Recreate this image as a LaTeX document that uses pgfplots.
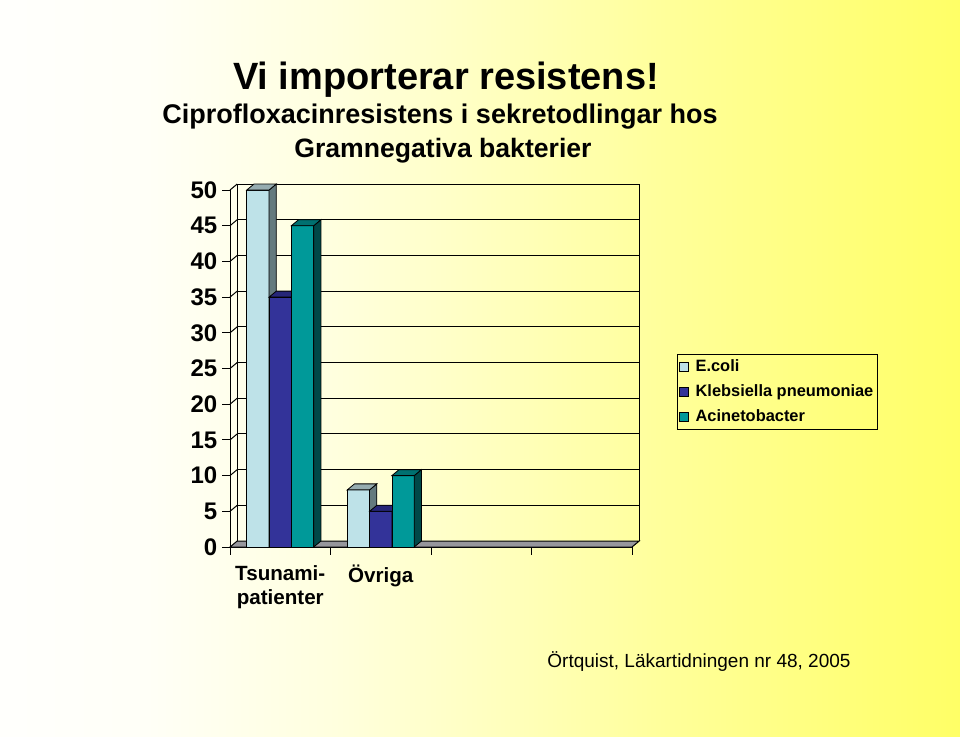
\documentclass[border=0pt]{standalone}
\usepackage{pgfplots}
\pgfplotsset{compat=1.18}
\usepackage{pgfplotstable}
\usepackage{fontspec}
\setmainfont{Liberation Sans}

\definecolor{ecoliF}{RGB}{190,226,232}
\definecolor{ecoliS}{RGB}{100,122,126}
\definecolor{ecoliT}{RGB}{150,172,176}
\definecolor{klebF}{RGB}{51,51,153}
\definecolor{klebS}{RGB}{25,25,82}
\definecolor{klebT}{RGB}{38,38,120}
\definecolor{acinF}{RGB}{0,153,153}
\definecolor{acinS}{RGB}{0,72,72}
\definecolor{acinT}{RGB}{0,112,112}
\definecolor{floorgray}{RGB}{150,150,156}

\pgfdeclarehorizontalshading{bgshade}{100bp}{%
  rgb(0bp)=(1,1,0.99); rgb(25bp)=(1,1,0.99); rgb(32.5bp)=(1,1,0.97);
  rgb(42.5bp)=(1,1,0.87); rgb(50bp)=(1,1,0.76); rgb(60bp)=(1,1,0.6);
  rgb(75bp)=(1,1,0.4); rgb(100bp)=(1,1,0.4)}

\pgfplotstableread{
pos ecoli kleb acin
0.5 50 35 45
1.5 8 5 10
}\resdata

\def\bw{5.575pt}
\def\dxb{3.6pt}
\def\dyb{3pt}
\def\yunit{3.57}

\newcommand\declarebarmark[4]{%
  \pgfdeclareplotmark{#1}{%
    \pgfkeys{/pgf/fpu=true,/pgf/fpu/output format=fixed}%
    \pgfmathparse{\barval*\yunit}%
    \pgfkeys{/pgf/fpu=false}%
    \edef\hh{\pgfmathresult pt}%
    \pgfsetlinewidth{0.4pt}\pgfsetstrokecolor{black}%
    \pgfsetfillcolor{#2}%
    \pgfpathrectangle{\pgfpoint{-\bw}{-\hh}}{\pgfpoint{2*\bw}{\hh}}%
    \pgfusepath{fill,stroke}%
    \pgfsetfillcolor{#3}%
    \pgfpathmoveto{\pgfpoint{\bw}{-\hh}}%
    \pgfpathlineto{\pgfpoint{\bw+\dxb}{-\hh+\dyb}}%
    \pgfpathlineto{\pgfpoint{\bw+\dxb}{\dyb}}%
    \pgfpathlineto{\pgfpoint{\bw}{0pt}}%
    \pgfpathclose
    \pgfusepath{fill,stroke}%
    \pgfsetfillcolor{#4}%
    \pgfpathmoveto{\pgfpoint{-\bw}{0pt}}%
    \pgfpathlineto{\pgfpoint{-\bw+\dxb}{\dyb}}%
    \pgfpathlineto{\pgfpoint{\bw+\dxb}{\dyb}}%
    \pgfpathlineto{\pgfpoint{\bw}{0pt}}%
    \pgfpathclose
    \pgfusepath{fill,stroke}%
  }}
\declarebarmark{barE}{ecoliF}{ecoliS}{ecoliT}
\declarebarmark{barK}{klebF}{klebS}{klebT}
\declarebarmark{barA}{acinF}{acinS}{acinT}

\begin{document}
\begin{tikzpicture}
\begin{scope}[x=0.5pt,y=-0.5pt]
\shade[shading=bgshade] (0,0) rectangle (960,736);
\end{scope}

\begin{axis}[
  at={(115pt,-273.5pt)}, anchor=south west,
  x=50.25pt, y=3.57pt,
  xmin=0, xmax=4, ymin=0, ymax=50,
  clip=false,
  axis lines*=left,
  axis line style={black, line width=0.5pt},
  tick align=outside,
  tick style={black, line width=0.5pt},
  ytick={0,5,...,50},
  /pgf/number format/assume math mode=true,
  yticklabel style={font=\bfseries\fontsize{12}{14}\selectfont, xshift=1pt},
  xtick={0,1,2,3,4},
  xticklabels={,,,,},
  major tick length=3.8pt,
  extra x ticks={0.5,1.5},
  extra x tick labels={{Tsunami-\\patienter},{Övriga}},
  extra x tick style={major tick length=0pt},
  xticklabel style={font=\bfseries\fontsize{10.3}{12}\selectfont, align=center, yshift=-5.5pt},
  legend style={at={(1.112,0.5406)}, anchor=north west, draw=black, line width=0.5pt,
    fill=none, font=\bfseries\fontsize{8.2}{10}\selectfont, inner xsep=0.5pt, inner ysep=1pt, row sep=2.1pt,
    nodes={inner sep=1.5pt}},
  legend cell align=left,
]
% floor
\filldraw[fill=floorgray, draw=black, line width=0.5pt] (axis cs:0,0) -- (axis cs:4,0) -- ([shift={(\dxb,\dyb)}]axis cs:4,0) -- ([shift={(\dxb,\dyb)}]axis cs:0,0) -- cycle;
% back wall grid and left wall
\pgfplotsinvokeforeach{5,10,...,50}{%
  \draw[black, line width=0.5pt] ([shift={(\dxb,\dyb)}]axis cs:0,#1) -- ([shift={(\dxb,\dyb)}]axis cs:4,#1);
  \draw[black, line width=0.5pt] (axis cs:0,#1) -- ([shift={(\dxb,\dyb)}]axis cs:0,#1);
}
\draw[black, line width=0.5pt] ([shift={(\dxb,\dyb)}]axis cs:0,0) -- ([shift={(\dxb,\dyb)}]axis cs:0,50);
\draw[black, line width=0.5pt] ([shift={(\dxb,\dyb)}]axis cs:4,0) -- ([shift={(\dxb,\dyb)}]axis cs:4,50);

\addplot[only marks, mark=barE, visualization depends on={\thisrow{ecoli} \as \barval},
  legend image code/.code={\draw[fill=ecoliF, draw=black, line width=0.4pt] (0pt,-2.3pt) rectangle (4.6pt,2.3pt); \path (6.6pt,0pt);}]
  table[x expr=\thisrow{pos}-0.222, y=ecoli] {\resdata};
\addplot[only marks, mark=barK, visualization depends on={\thisrow{kleb} \as \barval},
  legend image code/.code={\draw[fill=klebF, draw=black, line width=0.4pt] (0pt,-2.3pt) rectangle (4.6pt,2.3pt); \path (6.6pt,0pt);}]
  table[x expr=\thisrow{pos}, y=kleb] {\resdata};
\addplot[only marks, mark=barA, visualization depends on={\thisrow{acin} \as \barval},
  legend image code/.code={\draw[fill=acinF, draw=black, line width=0.4pt] (0pt,-2.3pt) rectangle (4.6pt,2.3pt); \path (6.6pt,0pt);}]
  table[x expr=\thisrow{pos}+0.222, y=acin] {\resdata};
\legend{E.coli, Klebsiella pneumoniae, Acinetobacter}
\end{axis}

\begin{scope}[x=0.5pt,y=-0.5pt]
\node[anchor=base, font=\bfseries\fontsize{19}{22}\selectfont] at (446,89) {Vi importerar resistens!};
\node[anchor=base, font=\bfseries\fontsize{13.5}{16}\selectfont] at (440,123) {Ciprofloxacinresistens i sekretodlingar hos};
\node[anchor=base, font=\bfseries\fontsize{13.3}{16}\selectfont] at (443,157) {Gramnegativa bakterier};
\node[anchor=base west, inner sep=0pt, font=\fontsize{9.5}{11}\selectfont] at (547,667) {Örtquist, Läkartidningen nr 48, 2005};
\pgfresetboundingbox
\useasboundingbox (0,0) rectangle (960,736);
\end{scope}
\end{tikzpicture}
\end{document}
